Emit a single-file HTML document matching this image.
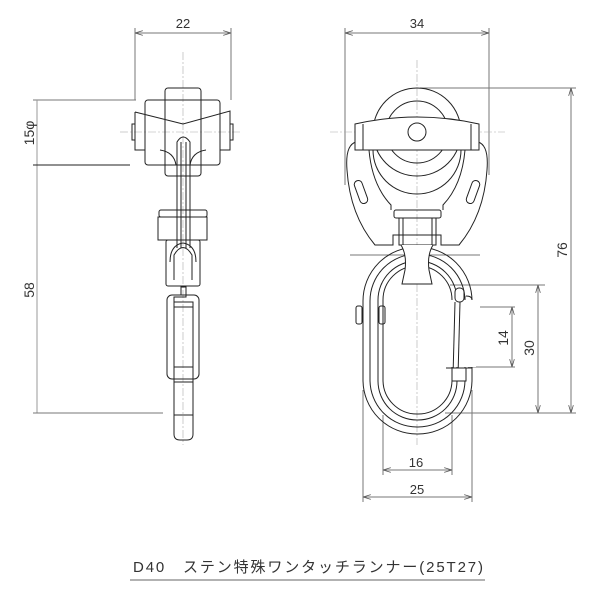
<!DOCTYPE html>
<html><head><meta charset="utf-8"><style>
html,body{margin:0;padding:0;background:#fff;}
svg{display:block;}
text{font-family:"Liberation Sans","Noto Sans CJK JP",sans-serif;fill:#333;}
</style></head><body>
<svg width="600" height="600" viewBox="0 0 600 600" xmlns="http://www.w3.org/2000/svg">
<defs>
<marker id="a" viewBox="0 0 10 6" refX="10" refY="3" markerWidth="8" markerHeight="5" orient="auto-start-reverse"><path d="M0,0 L10,3 L0,6" fill="none" stroke="#555" stroke-width="1"/></marker>
</defs>
<g stroke="#777" stroke-width="1" fill="none">
<line x1="135" y1="28" x2="135" y2="100"/><line x1="231" y1="28" x2="231" y2="100"/>
<line x1="135" y1="33" x2="231" y2="33" marker-start="url(#a)" marker-end="url(#a)"/>
<line x1="33" y1="100" x2="136" y2="100"/>
<line x1="37" y1="100" x2="37" y2="413" stroke="#999"/>
<line x1="33" y1="413" x2="163" y2="413"/>
<line x1="345" y1="28" x2="345" y2="185"/><line x1="489" y1="28" x2="489" y2="175"/>
<line x1="345" y1="33" x2="489" y2="33" marker-start="url(#a)" marker-end="url(#a)"/>
<line x1="420" y1="88" x2="576" y2="88"/>
<line x1="571" y1="88" x2="571" y2="413" marker-start="url(#a)" marker-end="url(#a)"/>
<line x1="445" y1="413" x2="576" y2="413"/>
<line x1="450" y1="285" x2="545" y2="285"/>
<line x1="538" y1="285" x2="538" y2="413" marker-start="url(#a)" marker-end="url(#a)"/>
<line x1="480" y1="307" x2="515" y2="307"/><line x1="468" y1="367" x2="515" y2="367"/>
<line x1="512" y1="307" x2="512" y2="367" marker-start="url(#a)" marker-end="url(#a)"/>
<line x1="383" y1="415" x2="383" y2="475"/><line x1="452" y1="415" x2="452" y2="475"/>
<line x1="383" y1="470" x2="452" y2="470" marker-start="url(#a)" marker-end="url(#a)"/>
<line x1="363" y1="390" x2="363" y2="502"/><line x1="472" y1="390" x2="472" y2="502"/>
<line x1="363" y1="497" x2="472" y2="497" marker-start="url(#a)" marker-end="url(#a)"/>
<line x1="350" y1="255" x2="480" y2="255"/>
</g>
<line x1="33" y1="165" x2="130" y2="165" stroke="#222"/>
<g stroke="#aaa" stroke-width="0.6" stroke-dasharray="8,2,2,2" fill="none">
<line x1="183" y1="52" x2="183" y2="445"/>
<line x1="120" y1="132" x2="242" y2="132"/>
<line x1="417" y1="60" x2="417" y2="445"/>
<line x1="330" y1="132" x2="505" y2="132"/>
</g>
<g stroke="#222" stroke-width="1" fill="none">
<rect x="165" y="88" width="36" height="88" rx="3"/>
<rect x="145" y="100" width="75" height="65" rx="3"/>
<path d="M135,112 L183,124 L230,111 L230,150 L220,150 M135,112 L135,150 L145,150"/>
<rect x="132" y="124" width="3" height="16"/><rect x="230" y="124" width="3" height="16"/>
<path d="M160,150 Q174,152 176,165 M206,150 Q192,152 190,165"/>
<path d="M177,248 L177,142 Q183,132 190,142 L190,248"/>
<line x1="181" y1="142" x2="181" y2="248"/><line x1="186" y1="142" x2="186" y2="248"/>
<rect x="159" y="210" width="48" height="7" rx="2"/>
<rect x="158" y="217" width="49" height="23"/>
<rect x="166" y="240" width="34" height="46" rx="2"/>
<path d="M174,280 L174,255 Q183,240 192,255 L192,280"/>
<path d="M170,262 Q170,245 183,243 Q196,245 196,262"/>
<rect x="167" y="295" width="32" height="84" rx="5"/>
<rect x="174" y="302" width="19" height="80"/>
<line x1="174" y1="307" x2="193" y2="307"/><line x1="174" y1="367" x2="193" y2="367"/>
<path d="M174,302 L174,297 L186,297 L186,287 L181,287 L181,295"/>
<path d="M174,382 L174,434 Q174,440 180,440 L187,440 Q193,440 193,434 L193,382"/>
<line x1="174" y1="415" x2="193" y2="415"/>
</g>
<g stroke="#222" stroke-width="1" fill="none">
<path d="M356,142 Q345,145 347,170 Q350,215 375,245 L393,245 L393,235 L441,235 L441,245 L459,245 Q484,215 487,170 Q489,145 478,142"/>
<path d="M369,150 Q372,185 391,205 L391,210 M465,150 Q462,185 443,205 L443,210"/>
<rect x="357" y="180" width="8" height="24" rx="4" transform="rotate(-20 361 192)"/>
<rect x="469" y="180" width="8" height="24" rx="4" transform="rotate(20 473 192)"/>
<circle cx="417" cy="132" r="44"/>
<circle cx="417" cy="132" r="31"/>
<path d="M355,124 Q417,110 479,124 L479,150 L355,150 Z" fill="#fff"/>
<path d="M373,150 A44,44 0 0 0 461,150"/>
<line x1="363" y1="124" x2="363" y2="150"/><line x1="471" y1="124" x2="471" y2="150"/>
<circle cx="417" cy="132" r="9" fill="#fff"/>
<rect x="394" y="210" width="47" height="8" rx="2"/>
<rect x="399" y="218" width="37" height="27"/>
<line x1="403" y1="218" x2="403" y2="245"/><line x1="432" y1="218" x2="432" y2="245"/>
<rect x="363" y="247" width="109" height="187" rx="54"/>
<rect x="370" y="254" width="95" height="173" rx="47"/>
<rect x="378" y="261" width="79" height="159" rx="39"/>
<rect x="383" y="266" width="69" height="148" rx="34"/>
<path d="M401,245 Q407,255 405,270 L402,284 L432,284 L429,270 Q427,255 433,245" fill="#fff"/>
<rect x="446" y="300" width="30" height="67" fill="#fff" stroke="none"/>
<path d="M472,300 Q472,296 466,296 M465,300 L465,296 M446,368 L472,368"/>
<rect x="356" y="306" width="6" height="18" rx="2"/><rect x="379" y="306" width="6" height="18" rx="2"/>
<rect x="455" y="288" width="9" height="14" rx="4" fill="#fff"/>
<line x1="455" y1="302" x2="453" y2="376"/><line x1="460" y1="302" x2="458" y2="376"/>
<rect x="452" y="368" width="14" height="13" fill="#fff"/>
</g>
<text x="183" y="28" font-size="13" text-anchor="middle">22</text>
<text x="417" y="28" font-size="13" text-anchor="middle">34</text>
<text x="416" y="467" font-size="13" text-anchor="middle">16</text>
<text x="417" y="494" font-size="13" text-anchor="middle">25</text>
<text transform="translate(34,133) rotate(-90)" font-size="14" text-anchor="middle">15φ</text>
<text transform="translate(34,290) rotate(-90)" font-size="14" text-anchor="middle">58</text>
<text transform="translate(567,250) rotate(-90)" font-size="14" text-anchor="middle">76</text>
<text transform="translate(534,348) rotate(-90)" font-size="14" text-anchor="middle">30</text>
<text transform="translate(508,338) rotate(-90)" font-size="14" text-anchor="middle">14</text>
<text x="133" y="572" font-size="15" textLength="350">D40　ステン特殊ワンタッチランナー(25T27)</text>
<line x1="130" y1="580" x2="485" y2="580" stroke="#666" stroke-width="1"/>
</svg>
</body></html>
